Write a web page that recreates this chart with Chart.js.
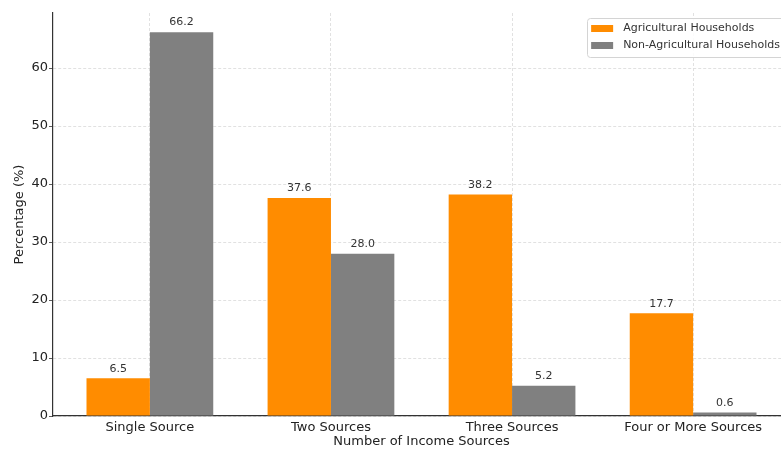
<!DOCTYPE html>
<html>
<head>
<meta charset="utf-8">
<script src="https://cdn.jsdelivr.net/npm/chart.js@4.4.0/dist/chart.umd.min.js"></script>
<style>
html, body { margin: 0; padding: 0; background: #fff; overflow: hidden; }
#wrap { position: relative; width: 800px; height: 450px; }
</style>
</head>
<body>
<div id="wrap"><canvas id="incomeChart"></canvas></div>
<script>
const categories = ['Single Source', 'Two Sources', 'Three Sources', 'Four or More Sources'];
const agricultural = [6.5, 37.6, 38.2, 17.7];
const nonAgricultural = [66.2, 28.0, 5.2, 0.6];
const yTicks = [0, 10, 20, 30, 40, 50, 60];

Chart.defaults.font.family = "'DejaVu Sans', sans-serif";
Chart.defaults.color = '#333';

// numbers printed above every bar
const barValues = {
  id: 'barValues',
  afterDatasetsDraw(chart) {
    const ctx = chart.ctx;
    ctx.save();
    ctx.font = "11px 'DejaVu Sans', sans-serif";
    ctx.fillStyle = '#333';
    ctx.textAlign = 'center';
    ctx.textBaseline = 'bottom';
    chart.data.datasets.forEach((ds, i) => {
      chart.getDatasetMeta(i).data.forEach((bar, j) => {
        ctx.fillText(ds.data[j].toFixed(1), bar.x, bar.y - 4);
      });
    });
    ctx.restore();
  }
};

// boxed legend in the upper right corner of the plot
const cornerLegend = {
  id: 'cornerLegend',
  afterDraw(chart) {
    const { ctx, chartArea } = chart;
    ctx.save();
    ctx.font = "11px 'DejaVu Sans', sans-serif";
    const sets = chart.data.datasets;
    const textW = Math.max(...sets.map(d => ctx.measureText(d.label).width));
    const boxW = 36 + textW + 5;
    const boxH = 39;
    const right = chartArea.right - 5;
    const left = right - boxW;
    const top = chartArea.top + 5;
    ctx.fillStyle = 'rgba(255,255,255,0.85)';
    ctx.strokeStyle = '#d4d4d4';
    ctx.lineWidth = 1;
    ctx.beginPath();
    ctx.roundRect(Math.round(left) + 0.5, top + 0.5, boxW, boxH, 3);
    ctx.fill();
    ctx.stroke();
    ctx.textBaseline = 'middle';
    ctx.textAlign = 'left';
    sets.forEach((ds, i) => {
      const cy = top + 10.5 + i * 17;
      ctx.fillStyle = ds.backgroundColor;
      ctx.fillRect(left + 4, cy - 3.5, 22, 7);
      ctx.fillStyle = '#333';
      ctx.fillText(ds.label, left + 36, cy);
    });
    ctx.restore();
  }
};

new Chart(document.getElementById('incomeChart'), {
  type: 'bar',
  data: {
    labels: categories,
    datasets: [
      {
        label: 'Agricultural Households',
        data: agricultural,
        backgroundColor: '#ff8c00',
        categoryPercentage: 0.7,
        barPercentage: 1.0
      },
      {
        label: 'Non-Agricultural Households',
        data: nonAgricultural,
        backgroundColor: '#808080',
        categoryPercentage: 0.7,
        barPercentage: 1.0
      }
    ]
  },
  options: {
    responsive: true,
    maintainAspectRatio: false,
    animation: false,
    layout: { padding: { left: 0, right: 10, top: 13, bottom: 0 } },
    plugins: {
      legend: { display: false },
      tooltip: { enabled: false }
    },
    scales: {
      x: {
        offset: true,
        afterBuildTicks(scale) {
          // wider side margins than the default half category
          scale._startValue = -0.535;
          scale._valueRange = categories.length - 1 + 1.07;
        },
        afterFit(scale) { scale.height = 34; },
        grid: { offset: false, color: '#d9d9d9', drawTicks: false, lineWidth: 0.8 },
        border: { color: '#333', width: 1.2, dash: [3, 2] },
        ticks: { font: { size: 13 }, color: '#222', padding: 4 },
        title: {
          display: true,
          text: 'Number of Income Sources',
          font: { size: 13 },
          color: '#222',
          padding: { top: 0, bottom: 1 }
        }
      },
      y: {
        min: 0,
        max: 69.5,
        afterBuildTicks(scale) {
          scale.ticks = yTicks.map(v => ({ value: v }));
        },
        afterFit(scale) { scale.width = 53; },
        grid: { color: '#d9d9d9', lineWidth: 0.8, tickLength: 4, tickColor: '#333', tickBorderDash: [] },
        border: { color: '#333', width: 1.2, dash: [3, 2] },
        ticks: { font: { size: 13 }, color: '#222', padding: 1 },
        title: {
          display: true,
          text: 'Percentage (%)',
          font: { size: 13 },
          color: '#222',
          padding: { top: 12, bottom: 0 }
        }
      }
    }
  },
  plugins: [barValues, cornerLegend]
});
</script>
</body>
</html>
